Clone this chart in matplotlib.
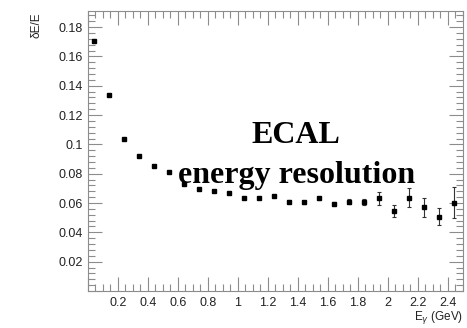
import matplotlib.pyplot as plt
from matplotlib.ticker import MultipleLocator, FormatStrFormatter

# photon energy bins (GeV) and relative resolution
energy = [0.04, 0.14, 0.24, 0.34, 0.44, 0.54, 0.64, 0.74, 0.84, 0.94,
          1.04, 1.14, 1.24, 1.34, 1.44, 1.54, 1.64, 1.74, 1.84, 1.94,
          2.04, 2.14, 2.24, 2.34, 2.44]
resolution = [0.1705, 0.1336, 0.1036, 0.0924, 0.0855, 0.0815, 0.0728, 0.0694,
              0.0683, 0.0671, 0.0633, 0.0633, 0.0646, 0.0610, 0.0605, 0.0633,
              0.0596, 0.0610, 0.0607, 0.0633, 0.0546, 0.0637, 0.0571, 0.0507,
              0.0603]
res_err = [0.0003, 0.0003, 0.0003, 0.0003, 0.0003, 0.0004, 0.0004, 0.0005,
           0.0005, 0.0006, 0.0006, 0.0007, 0.0008, 0.0008, 0.0009, 0.0010,
           0.0011, 0.0018, 0.0019, 0.0043, 0.0040, 0.0063, 0.0064, 0.0058,
           0.0107]

axis_grey = '#8c8c8c'

fig = plt.figure(figsize=(4.67, 3.28), dpi=100)
ax = fig.add_axes([0.1884, 0.1128, 0.803, 0.8537])

ax.errorbar(energy, resolution, yerr=res_err, fmt='s', color='black',
            ms=3.0, ecolor='#333333', elinewidth=0.8, capsize=1.5, capthick=0.8)

ax.set_xlim(0, 2.5)
ax.set_ylim(0, 0.191)

ax.xaxis.set_major_locator(MultipleLocator(0.2))
ax.xaxis.set_minor_locator(MultipleLocator(0.05))
ax.yaxis.set_major_locator(MultipleLocator(0.02))
ax.yaxis.set_minor_locator(MultipleLocator(0.004))
ax.xaxis.set_major_formatter(FormatStrFormatter('%g'))
ax.yaxis.set_major_formatter(FormatStrFormatter('%g'))

ax.tick_params(which='both', direction='in', top=True, right=True,
               color=axis_grey, labelsize=9, labelcolor='#222222',
               labelfontfamily='Liberation Sans')
ax.tick_params(which='major', length=10, width=0.8)
ax.tick_params(which='minor', length=5, width=0.8)
ax.tick_params(axis='x', pad=4)
for s in ax.spines.values():
    s.set_color(axis_grey)
    s.set_linewidth(0.8)

# hide zero labels, as in the original
fig.canvas.draw()
for lbl in ax.get_xticklabels() + ax.get_yticklabels():
    if lbl.get_text() == '0':
        lbl.set_visible(False)

fig.text(36 / 467, 1 - 12 / 328, 'δE/E', rotation=90, ha='center', va='top',
         fontsize=8.5, family='Liberation Sans', color='#222222')
fig.text(463 / 467, 2 / 328, 'E$_{\\gamma}$ (GeV)', ha='right', va='bottom',
         fontsize=8.5, family='Liberation Sans', color='#222222')

ax.text(0.555, 0.557, 'ECAL', ha='center', va='center', fontsize=23,
        fontweight='bold', family='Liberation Serif', transform=ax.transAxes)
ax.text(0.555, 0.386, 'energy resolution', ha='center', va='baseline',
        fontsize=23, fontweight='bold', family='Liberation Serif',
        transform=ax.transAxes)

plt.savefig('out.png', dpi=100)
